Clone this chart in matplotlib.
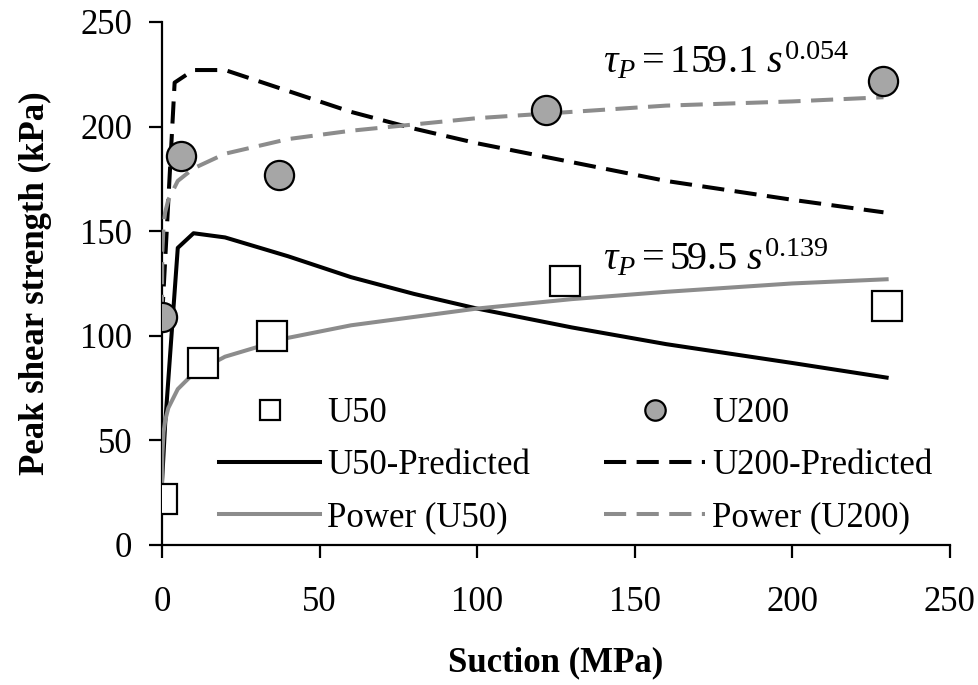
import matplotlib
matplotlib.use("Agg")
import matplotlib.pyplot as plt

plt.rcParams['font.family'] = ['Liberation Serif', 'DejaVu Serif']
plt.rcParams['mathtext.fontset'] = 'custom'
plt.rcParams['mathtext.rm'] = 'Liberation Serif'
plt.rcParams['mathtext.it'] = 'Liberation Serif:italic'

# Measured data
u50_s = [0, 13, 35, 128, 230]
u50_tau = [22, 87, 100, 126, 114]
u200_s = [0, 6, 37, 122, 229]
u200_tau = [109, 186, 177, 208, 222]

# Predicted curves
u50_pred_s = [0, 1, 5, 10, 20, 40, 60, 80, 100, 130, 160, 200, 230]
u50_pred_tau = [30, 58, 142, 149, 147, 138, 128, 120, 113, 104, 96, 87, 80]
u200_pred_s = [0, 4, 10, 20, 40, 60, 80, 100, 130, 160, 200, 229]
u200_pred_tau = [108, 221, 227, 227, 217, 207, 199, 192, 183, 174, 165, 159]

# Power trend lines
pow50_s = [0.001, 0.01, 0.1, 0.5, 1, 2, 5, 10, 20, 40, 60, 80, 100, 130, 160, 200, 230]
pow50_tau = [22, 31, 43, 54, 59.5, 65.5, 74.5, 82, 90, 99, 105, 109, 113, 117.5, 121, 125, 127]
pow200_s = [0.001, 0.01, 0.1, 0.5, 1, 2, 5, 10, 20, 40, 60, 80, 100, 130, 160, 200, 229]
pow200_tau = [109, 124, 140, 153, 159, 165, 174, 180, 187, 194, 198, 201, 204, 207, 210, 212, 214]

# Fit equations
eq200 = r'$\tau_P = 159.1\ s^{0.054}$'
eq50 = r'$\tau_P = 59.5\ s^{0.139}$'

fig = plt.figure(figsize=(9.79, 6.85), dpi=100)
ax = fig.add_axes([0.1655, 0.2044, 0.8045, 0.7636])

grey = '#8c8c8c'
dash = (0, (5.5, 2.6))
lw = 2.9
fs = 25

h_u50, = ax.plot(u50_s, u50_tau, linestyle='none', marker='s', markersize=21,
                 markerfacecolor='white', markeredgecolor='black', markeredgewidth=1.6,
                 label='U50', zorder=5)
h_u200, = ax.plot(u200_s, u200_tau, linestyle='none', marker='o', markersize=21,
                  markerfacecolor='#a6a6a6', markeredgecolor='black', markeredgewidth=1.6,
                  label='U200', zorder=5)
h_p50, = ax.plot(u50_pred_s, u50_pred_tau, color='black', lw=lw,
                 label='U50-Predicted', zorder=3)
h_p200, = ax.plot(u200_pred_s, u200_pred_tau, color='black', lw=lw, linestyle=dash,
                  label='U200-Predicted', zorder=3)
h_w50, = ax.plot(pow50_s, pow50_tau, color=grey, lw=lw, label='Power (U50)', zorder=4)
h_w200, = ax.plot(pow200_s, pow200_tau, color=grey, lw=lw, linestyle=dash,
                  label='Power (U200)', zorder=4)

ax.set_xlim(0, 250)
ax.set_ylim(0, 250)
ax.set_xticks([0, 50, 100, 150, 200, 250])
ax.set_yticks([0, 50, 100, 150, 200, 250])
ax.spines['top'].set_visible(False)
ax.spines['right'].set_visible(False)
for s in ['left', 'bottom']:
    ax.spines[s].set_linewidth(1.6)
ax.tick_params(axis='both', labelsize=fs, width=1.6, length=9.5, direction='out')
ax.tick_params(axis='x', pad=20)
ax.tick_params(axis='y', pad=12)
ax.set_xlabel('Suction (MPa)', fontsize=fs, fontweight='bold', labelpad=20)
ax.set_ylabel('Peak shear strength (kPa)', fontsize=fs, fontweight='bold')
ax.yaxis.set_label_coords(-0.14, 0.5)

ax.text(140, 225.5, eq200, fontsize=29, va='baseline', ha='left')
ax.text(140, 131.5, eq50, fontsize=29, va='baseline', ha='left')

handles = [h_u50, h_p50, h_w50, h_u200, h_p200, h_w200]
leg = ax.legend(handles=handles, ncol=2, fontsize=fs, frameon=False, loc='lower left',
                bbox_to_anchor=(0.055, -0.006), handlelength=2.9, handletextpad=0.2,
                columnspacing=2.15, labelspacing=0.55, markerscale=0.7,
                borderaxespad=0)

plt.savefig('out.png', dpi=100)
